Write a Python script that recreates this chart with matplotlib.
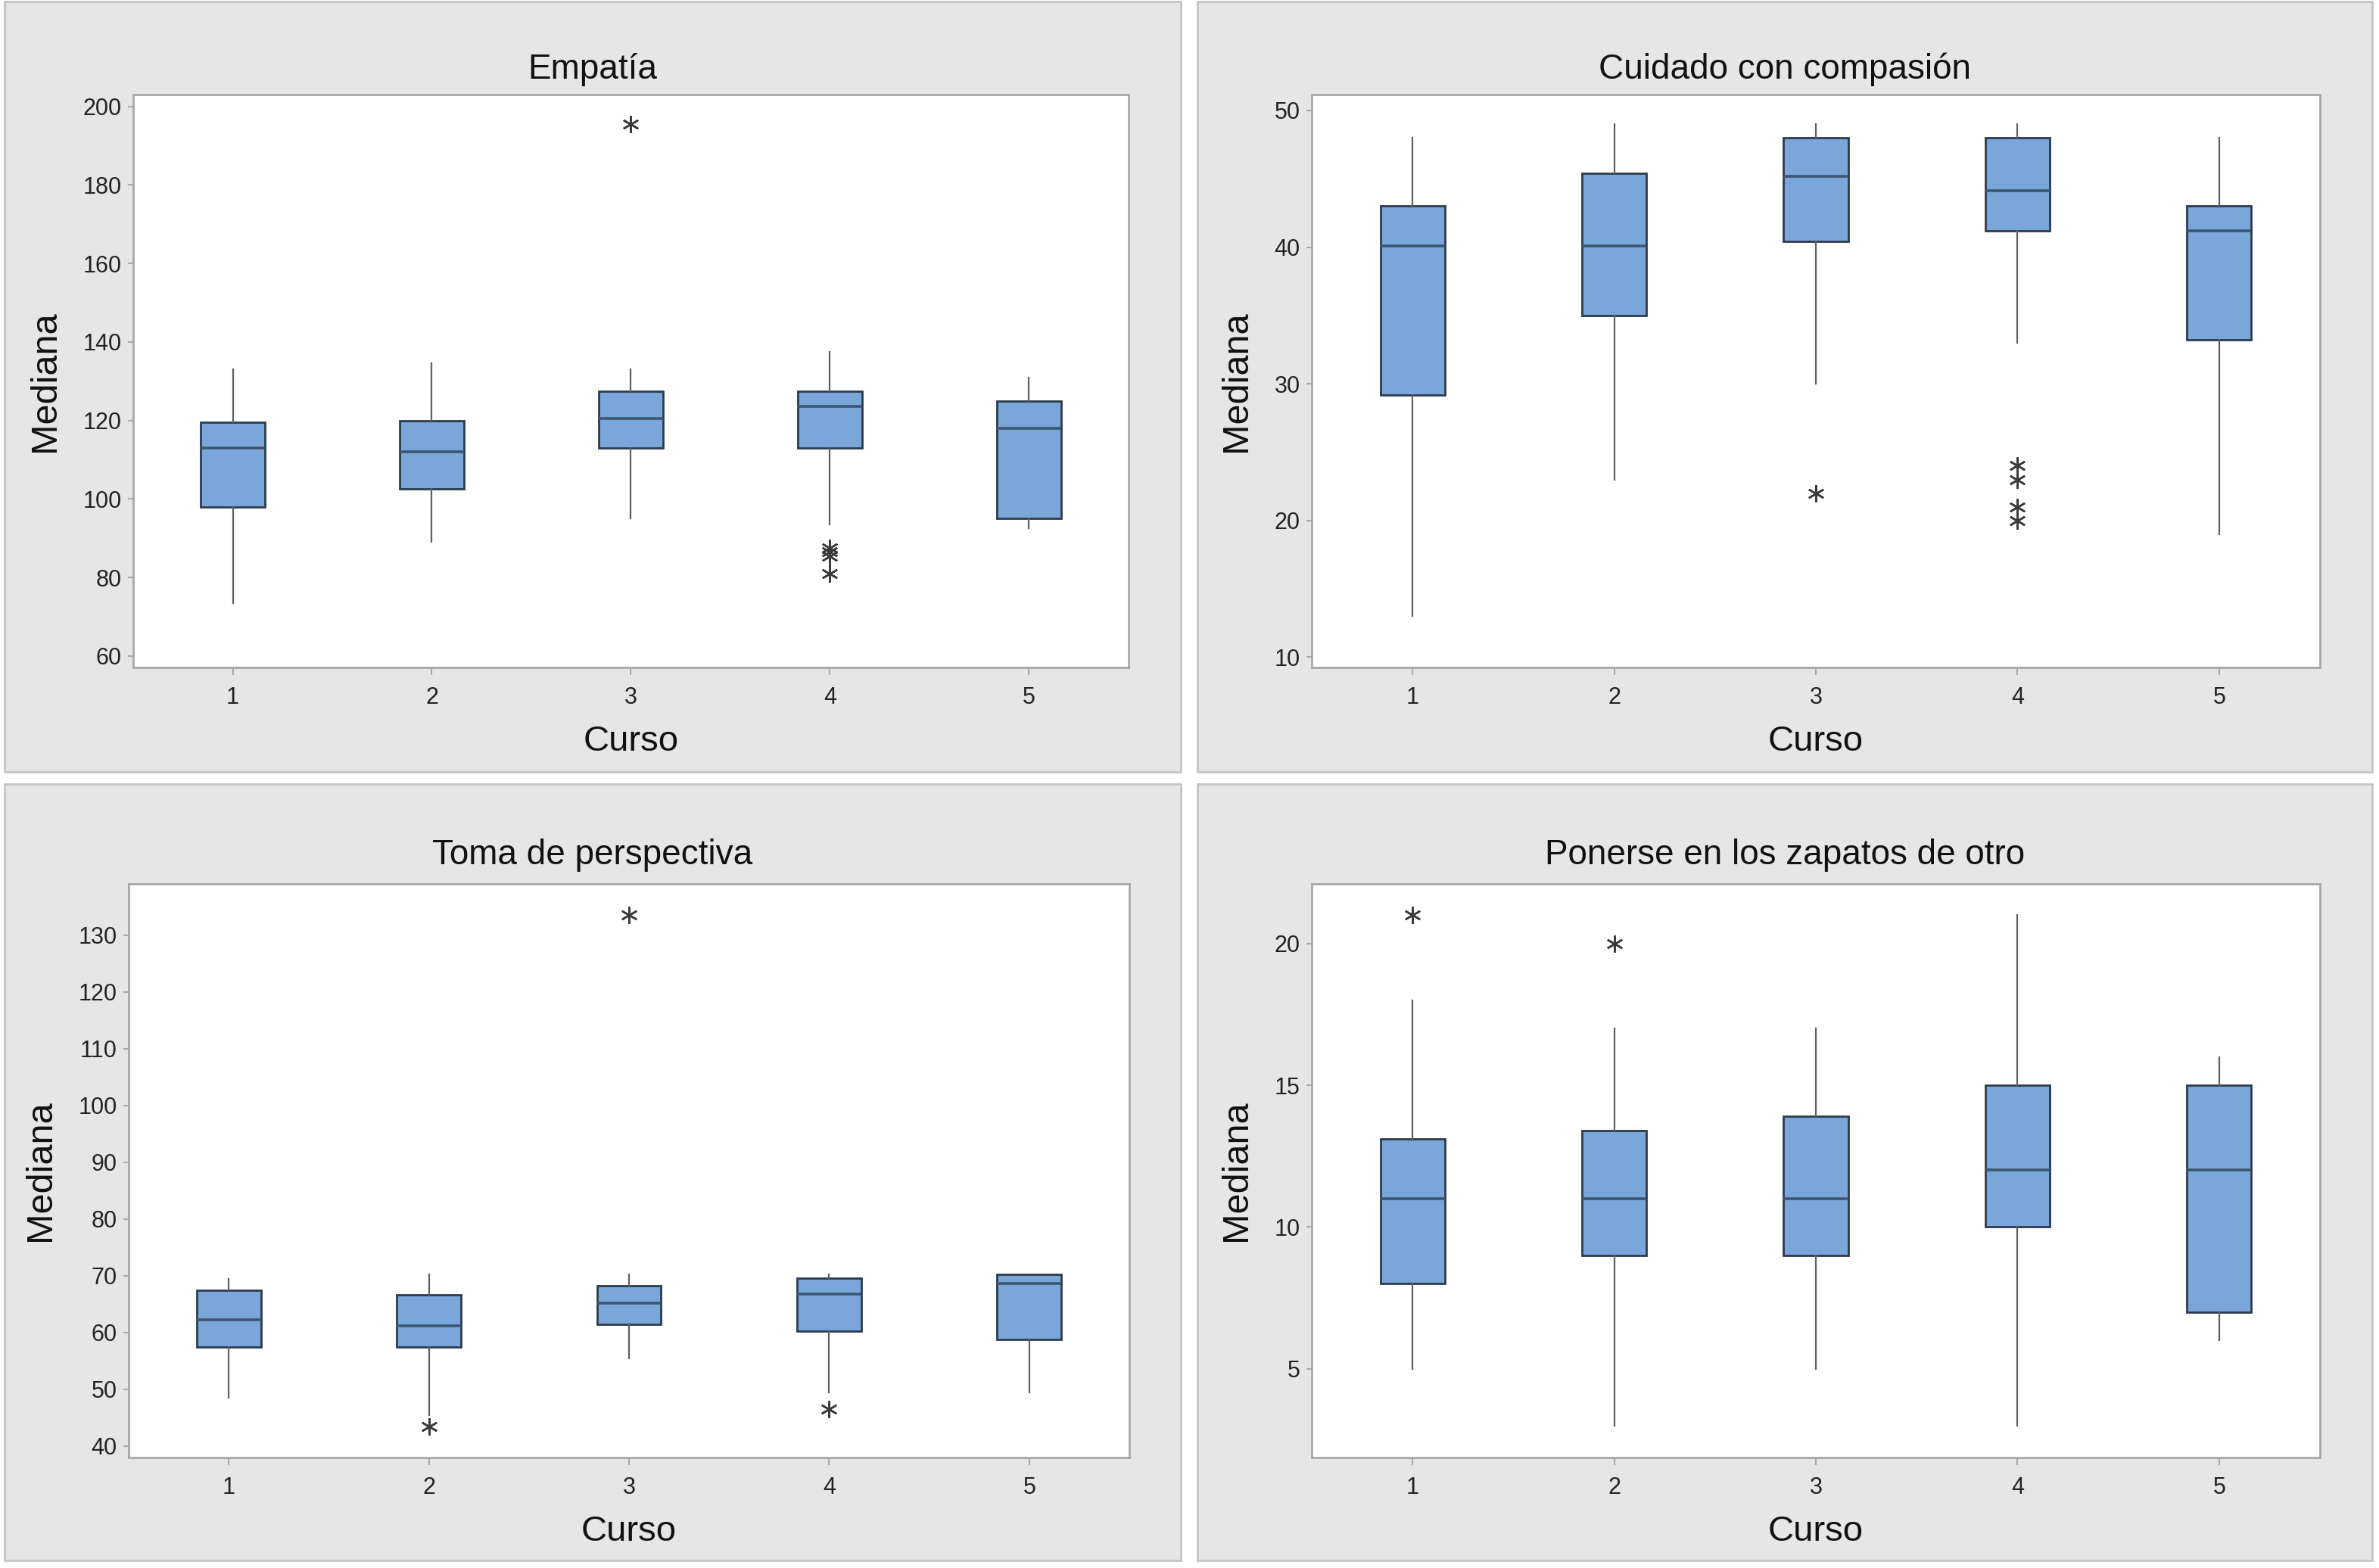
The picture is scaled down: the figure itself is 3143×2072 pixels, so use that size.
import matplotlib
matplotlib.use("Agg")
import matplotlib.pyplot as plt
from matplotlib.patches import Rectangle

# Datos (cuartiles, bigotes y atipicos por curso)
cursos = [1, 2, 3, 4, 5]

emp_whislo = [73.5, 89, 95, 93.5, 92.5]
emp_q1 = [98, 102.5, 113, 113, 95]
emp_med = [113, 112, 120.5, 123.5, 118]
emp_q3 = [119.5, 120, 127.5, 127.5, 125]
emp_whishi = [133, 134.5, 133, 137.5, 131]
emp_fliers = [[], [], [195.5], [87.5, 86.5, 85.5, 81], []]

cui_whislo = [13, 23, 30, 33, 19]
cui_q1 = [29.2, 35, 40.4, 41.2, 33.2]
cui_med = [40.1, 40.1, 45.2, 44.1, 41.2]
cui_q3 = [43, 45.4, 48, 48, 43]
cui_whishi = [48, 49, 49, 49, 48]
cui_fliers = [[], [], [22], [24, 23, 21, 20], []]

tom_whislo = [48.5, 45.5, 55.5, 49.5, 49.5]
tom_q1 = [57.5, 57.5, 61.5, 60.2, 58.8]
tom_med = [62.3, 61.2, 65.2, 66.8, 68.7]
tom_q3 = [67.5, 66.7, 68.2, 69.6, 70.3]
tom_whishi = [69.5, 70.2, 70.2, 70.2, 70.3]
tom_fliers = [[], [43.5], [133.5], [46.5], []]

pon_whislo = [5, 3, 5, 3, 6]
pon_q1 = [8, 9, 9, 10, 7]
pon_med = [11, 11, 11, 12, 12]
pon_q3 = [13.1, 13.4, 13.9, 15, 15]
pon_whishi = [18, 17, 17, 21, 16]
pon_fliers = [[21], [20], [], [], []]

W, H = 3143, 2072
fig = plt.figure(figsize=(W / 100, H / 100), dpi=100)
plt.rcParams['font.family'] = ['Liberation Sans', 'DejaVu Sans']


def frac(x0, y0, x1, y1):
    return [x0 / W, 1 - y1 / H, (x1 - x0) / W, (y1 - y0) / H]


def panel(box, axbox, title, title_y, ylim, yticks,
          whislo, q1, med, q3, whishi, fliers):
    # fondo gris del panel, por debajo de los ejes
    r = Rectangle((box[0] / W, 1 - box[3] / H), (box[2] - box[0]) / W,
                  (box[3] - box[1]) / H, transform=fig.transFigure,
                  facecolor='#e6e6e6', edgecolor='#c4c4c4', lw=2, zorder=-5)
    fig.patches.append(r)
    fig.text((box[0] + box[2]) / 2 / W, 1 - title_y / H, title,
             ha='center', va='center', fontsize=33, color='#111111')

    ax = fig.add_axes(frac(*axbox))
    ax.set_zorder(2)
    stats = []
    for i in range(len(cursos)):
        stats.append(dict(med=med[i], q1=q1[i], q3=q3[i], whislo=whislo[i],
                          whishi=whishi[i], fliers=fliers[i]))
    ax.bxp(stats, positions=cursos, widths=0.32, patch_artist=True,
           showcaps=False,
           boxprops=dict(facecolor='#7ba6d9', edgecolor='#2c3b4c', linewidth=2.0),
           medianprops=dict(color='#3b5673', linewidth=2.6),
           whiskerprops=dict(color='#606060', linewidth=1.6),
           flierprops=dict(marker=(6, 2, 0), markersize=16, markeredgewidth=1.8,
                           markeredgecolor='#3a3a3a', markerfacecolor='none',
                           linestyle='none'))
    ax.set_xlim(0.5, 5.5)
    ax.set_ylim(*ylim)
    ax.set_yticks(yticks)
    ax.set_xticks(cursos)
    ax.set_xticklabels([str(c) for c in cursos])
    for s in ax.spines.values():
        s.set_color('#a8a8a8')
        s.set_linewidth(2)
    ax.tick_params(axis='x', length=7, width=1.5, color='#a8a8a8',
                   labelsize=22, pad=11, labelcolor='#222222')
    ax.tick_params(axis='y', length=5, width=1.5, color='#a8a8a8',
                   labelsize=22, pad=6, labelcolor='#222222')
    ax.set_xlabel('Curso', fontsize=34, labelpad=15, color='#111111')
    ax.set_ylabel('Mediana', fontsize=35, labelpad=20, color='#111111')
    return ax


panel((6, 2, 1560, 1020), (176, 125, 1491, 882), 'Empatía', 92,
      (57.1, 203.0), range(60, 201, 20),
      emp_whislo, emp_q1, emp_med, emp_q3, emp_whishi, emp_fliers)
panel((1582, 2, 3134, 1020), (1733, 125, 3065, 882), 'Cuidado con compasión', 92,
      (9.24, 51.16), range(10, 51, 10),
      cui_whislo, cui_q1, cui_med, cui_q3, cui_whishi, cui_fliers)
panel((6, 1036, 1560, 2062), (170, 1168, 1492, 1926), 'Toma de perspectiva', 1130,
      (38.0, 139.0), range(40, 131, 10),
      tom_whislo, tom_q1, tom_med, tom_q3, tom_whishi, tom_fliers)
panel((1582, 1036, 3134, 2062), (1733, 1168, 3065, 1926), 'Ponerse en los zapatos de otro', 1130,
      (1.87, 22.1), [5, 10, 15, 20],
      pon_whislo, pon_q1, pon_med, pon_q3, pon_whishi, pon_fliers)

fig.savefig('out.png', dpi=100)
